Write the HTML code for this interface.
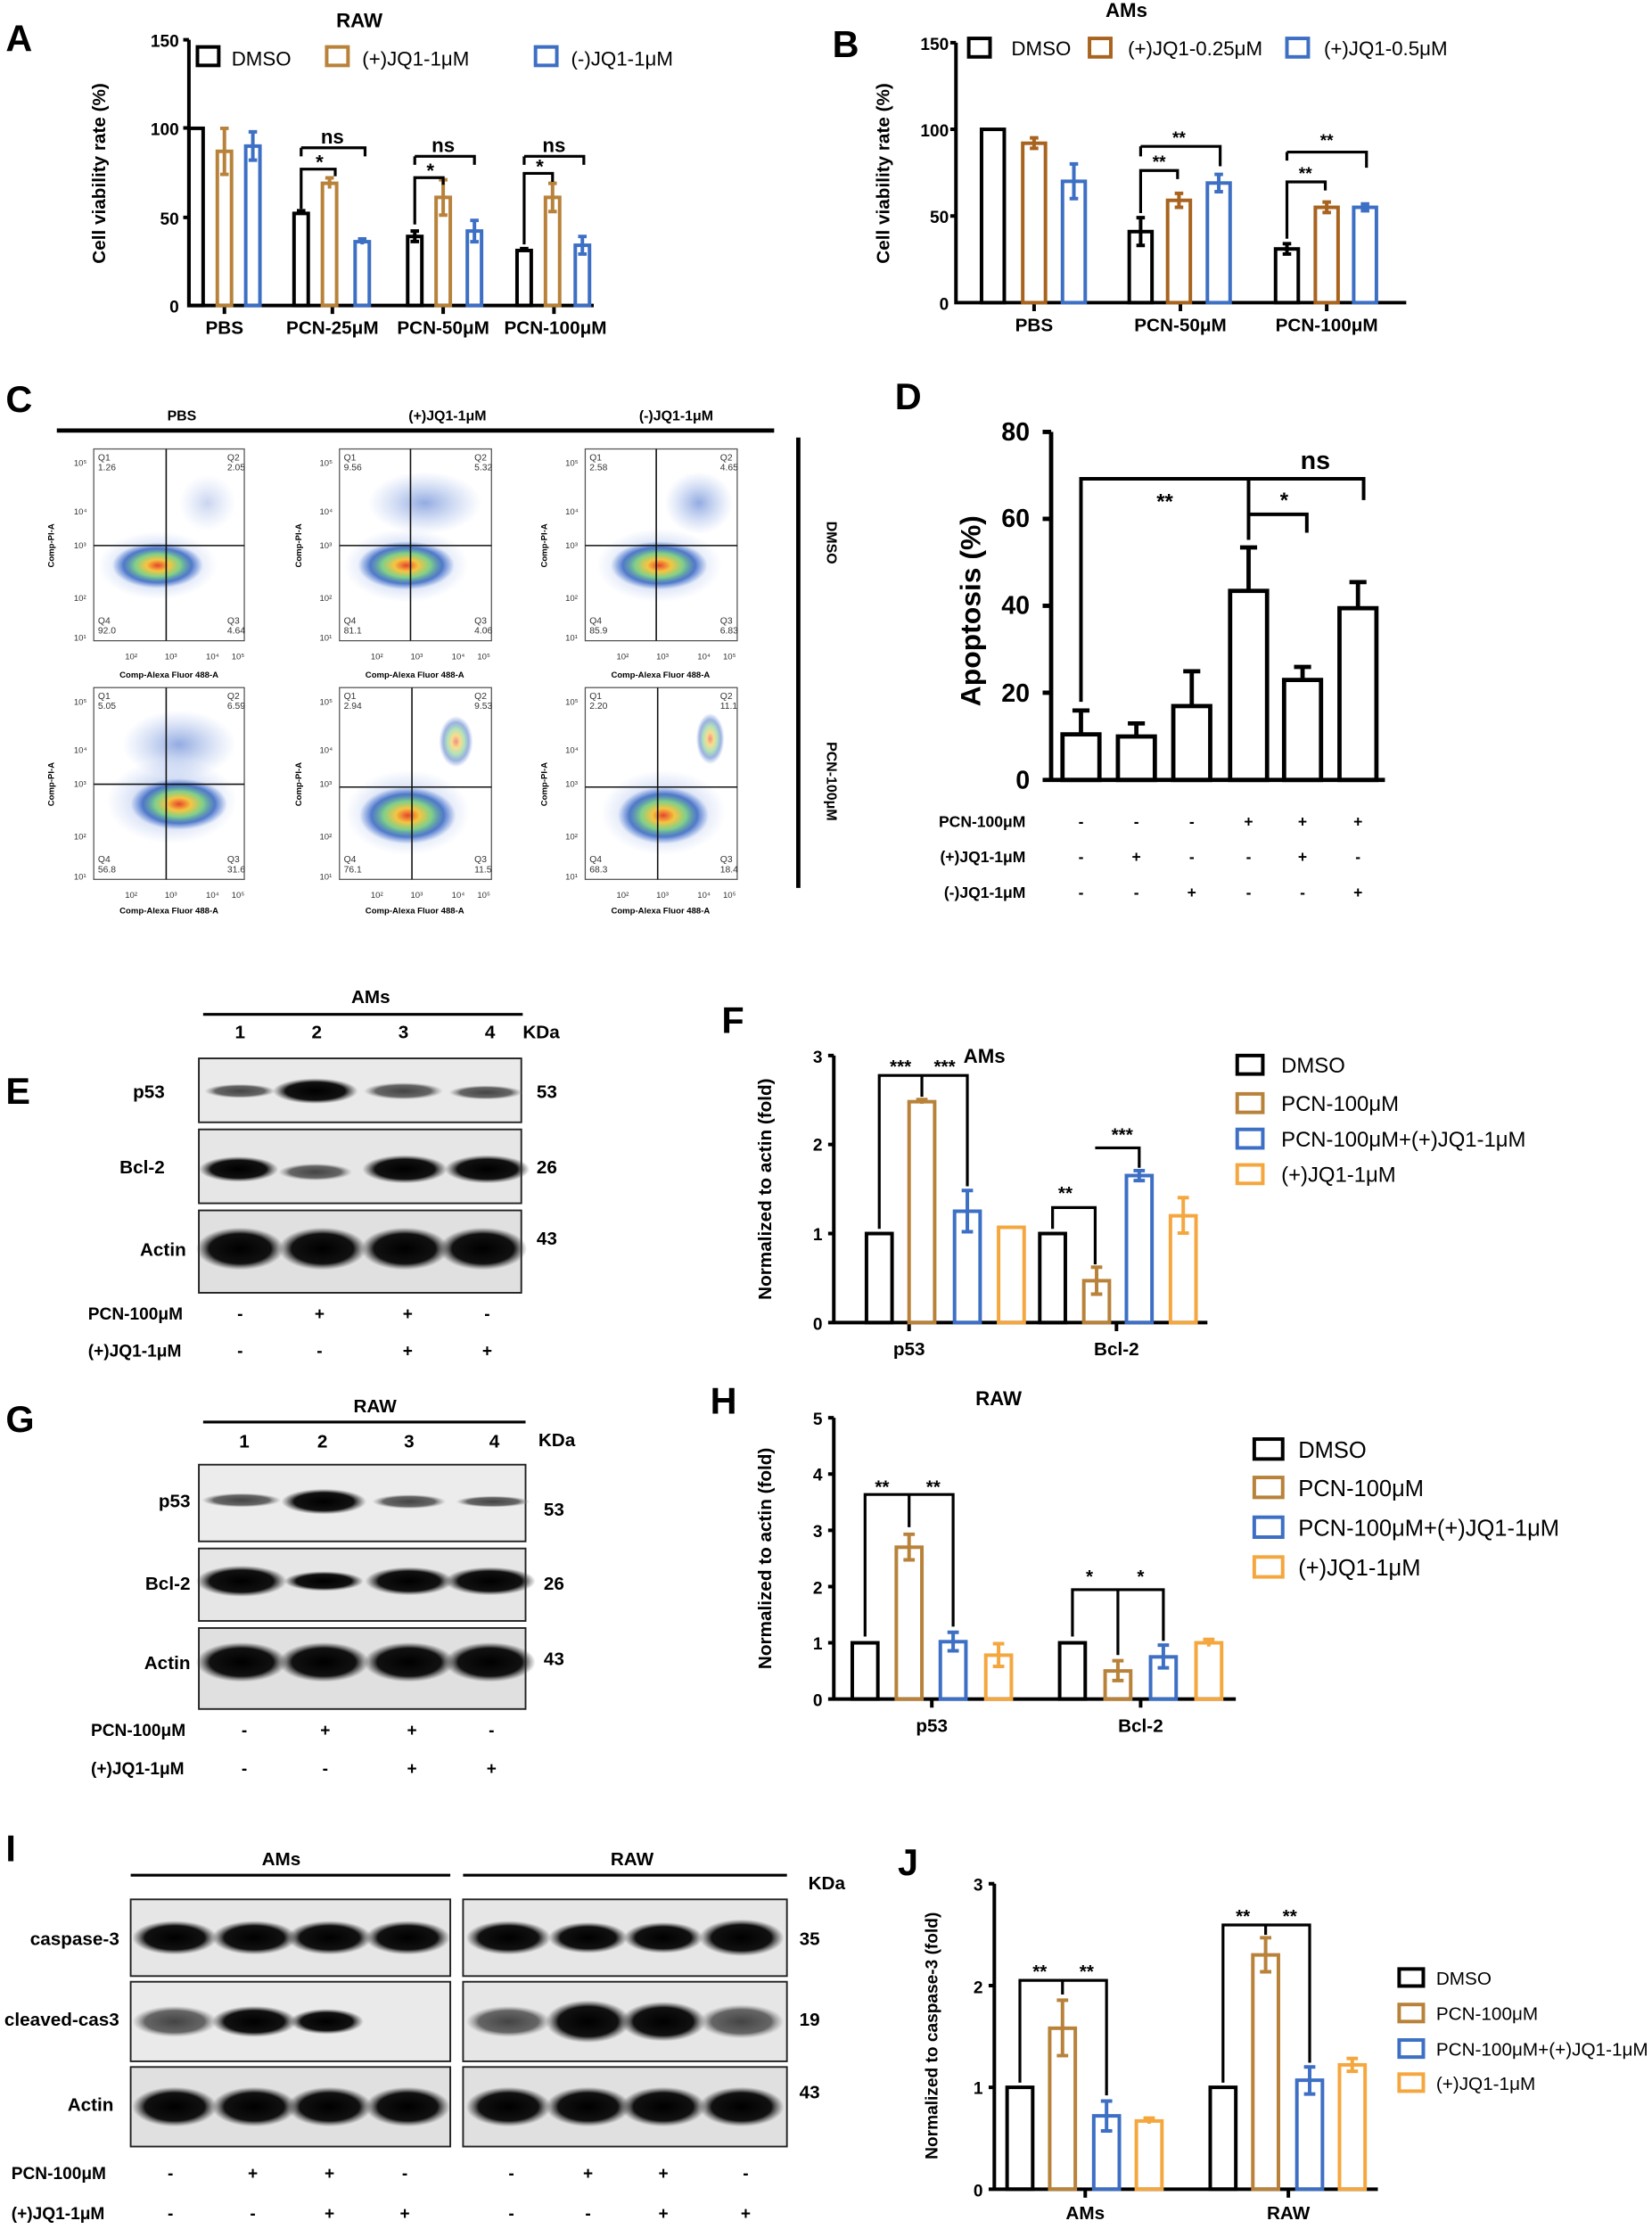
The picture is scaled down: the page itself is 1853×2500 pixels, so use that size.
<!DOCTYPE html>
<html><head><meta charset="utf-8"><style>
html,body{margin:0;padding:0;background:#fff}
svg{display:block}
text{font-family:"Liberation Sans",Arial,sans-serif}
.b{font-weight:bold}
</style></head><body>
<svg width="1853" height="2500" viewBox="0 0 1163 1569" xmlns="http://www.w3.org/2000/svg">
<defs>
<radialGradient id="fc"><stop offset="0" stop-color="#e8452a"/><stop offset="0.25" stop-color="#f5c542"/><stop offset="0.5" stop-color="#7fd08a"/><stop offset="0.75" stop-color="#2f5fc0" stop-opacity="0.8"/><stop offset="1" stop-color="#3d6fd0" stop-opacity="0"/></radialGradient>
<radialGradient id="fb"><stop offset="0" stop-color="#3a66c8" stop-opacity="0.55"/><stop offset="1" stop-color="#6a8fe0" stop-opacity="0"/></radialGradient>
<radialGradient id="band"><stop offset="0" stop-color="#000"/><stop offset="0.7" stop-color="#111"/><stop offset="1" stop-color="#444" stop-opacity="0"/></radialGradient>
<radialGradient id="bandl"><stop offset="0" stop-color="#444"/><stop offset="0.7" stop-color="#666"/><stop offset="1" stop-color="#999" stop-opacity="0"/></radialGradient>
</defs>
<g fill="none" stroke-width="2.5">
<!-- ===== Panel A ===== -->
<text x="4" y="36" font-size="26" class="b" fill="#000" stroke="none">A</text>
<text x="253" y="19" font-size="14" class="b" text-anchor="middle" stroke="none" fill="#000">RAW</text>
<g stroke="none" fill="#000" font-size="14">
<text x="163" y="46">DMSO</text><text x="255" y="46">(+)JQ1-1μM</text><text x="402" y="46">(-)JQ1-1μM</text>
</g>
<rect x="139" y="33" width="15" height="13" stroke="#000"/><rect x="230" y="33" width="15" height="13" stroke="#b8823a"/><rect x="377" y="33" width="15" height="13" stroke="#3d6fc4"/>
<g stroke="none" fill="#000" font-size="12" class="b" text-anchor="end">
<text x="126" y="33">150</text><text x="126" y="95">100</text><text x="126" y="158">50</text><text x="126" y="220">0</text></g>
<text transform="translate(74,122) rotate(-90)" font-size="13" class="b" text-anchor="middle" stroke="none" fill="#000">Cell viability rate (%)</text>
<path d="M133,28V215H418M129,28H133M129,90H133M129,153H133M158,215V221M234,215V221M312,215V221M390,215V221" stroke="#000"/>
<g stroke="none" fill="#000" font-size="13" class="b" text-anchor="middle"><text x="158" y="235">PBS</text><text x="234" y="235">PCN-25μM</text><text x="312" y="235">PCN-50μM</text><text x="391" y="235">PCN-100μM</text></g>
<g stroke="#000"><rect x="133" y="90.3" width="10" height="124.7"/><rect x="207" y="150.2" width="10" height="64.8"/><rect x="287" y="166.4" width="10" height="48.6"/><rect x="364" y="176.3" width="10" height="38.7"/>
<path d="M212,148.3V150M209,148.3H215M292,162.6V170M289,162.6H295M289,170H295M369,175V177M366,175H372"/></g>
<g stroke="#b8823a"><rect x="153" y="106.5" width="10" height="108.5"/><rect x="227" y="129" width="10" height="86"/><rect x="307" y="138.9" width="10" height="76.1"/><rect x="384" y="138.9" width="10" height="76.1"/>
<path d="M158,90.3V122.7M155,90.3H161M155,122.7H161M232,125.2V132.7M229,125.2H235M312,126.5V151.4M309,126.5H315M309,151.4H315M389,129V148.9M386,129H392M386,148.9H392"/></g>
<g stroke="#3d6fc4"><rect x="173" y="102.8" width="10" height="112.2"/><rect x="250" y="170.1" width="10" height="44.9"/><rect x="329" y="162.6" width="10" height="52.4"/><rect x="405" y="172.6" width="10" height="42.4"/>
<path d="M178,92.8V112.7M175,92.8H181M175,112.7H181M255,168.2V172M252,168.2H258M334,155.1V170.1M331,155.1H337M331,170.1H337M410,166.4V178.8M407,166.4H413M407,178.8H413"/></g>
<path d="M212,147V119H236V124M212,104H257V110M212,104V110M292,158V125H312V130M292,110H334V116M292,110V116M369,172V122H389V128M369,110H411V116M369,110V116" stroke="#000" stroke-width="2"/>
<g stroke="none" fill="#000" font-size="14" class="b" text-anchor="middle"><text x="225" y="119">*</text><text x="234" y="101">ns</text><text x="303" y="125">*</text><text x="312" y="107">ns</text><text x="380" y="122">*</text><text x="390" y="107">ns</text></g>

<!-- ===== Panel B ===== -->
<text x="586" y="40" font-size="26" class="b" fill="#000" stroke="none">B</text>
<text x="793" y="12" font-size="14" class="b" text-anchor="middle" stroke="none" fill="#000">AMs</text>
<g stroke="none" fill="#000" font-size="14"><text x="712" y="39">DMSO</text><text x="794" y="39">(+)JQ1-0.25μM</text><text x="932" y="39">(+)JQ1-0.5μM</text></g>
<rect x="682" y="27" width="15" height="13" stroke="#000"/><rect x="767" y="27" width="15" height="13" stroke="#a8631e"/><rect x="906" y="27" width="15" height="13" stroke="#3d6fc4"/>
<g stroke="none" fill="#000" font-size="12" class="b" text-anchor="end"><text x="668" y="35">150</text><text x="668" y="96">100</text><text x="668" y="157">50</text><text x="668" y="218">0</text></g>
<text transform="translate(626,122) rotate(-90)" font-size="13" class="b" text-anchor="middle" stroke="none" fill="#000">Cell viability rate (%)</text>
<path d="M673,30V213H990M669,30H673M669,91H673M669,152H673M728,213V219M831,213V219M934,213V219" stroke="#000"/>
<g stroke="none" fill="#000" font-size="13" class="b" text-anchor="middle"><text x="728" y="233">PBS</text><text x="831" y="233">PCN-50μM</text><text x="934" y="233">PCN-100μM</text></g>
<g stroke="#000"><rect x="691" y="91" width="16" height="122"/><rect x="795" y="163" width="16" height="50"/><rect x="898" y="175.2" width="16" height="37.8"/>
<path d="M803,153.2V172.7M800,153.2H806M800,172.7H806M906,171.5V178.8M903,171.5H909M903,178.8H909"/></g>
<g stroke="#a8631e"><rect x="720" y="100.8" width="16" height="112.2"/><rect x="822" y="141" width="16" height="72"/><rect x="926" y="145.9" width="16" height="67.1"/>
<path d="M728,97V104.4M725,97H731M725,104.4H731M830,136.1V145.9M827,136.1H833M827,145.9H833M934,142.2V149.6M931,142.2H937M931,149.6H937"/></g>
<g stroke="#3d6fc4"><rect x="748" y="127.6" width="16" height="85.4"/><rect x="850" y="128.8" width="16" height="84.2"/><rect x="953" y="145.9" width="16" height="67.1"/>
<path d="M756,115.4V139.8M753,115.4H759M753,139.8H759M858,122.7V134.9M855,122.7H861M855,134.9H861M961,143.5V148.3M958,143.5H964M958,148.3H964"/></g>
<path d="M803,150V120H829V126M803,103H859V117M803,103V110M906,168V128H933V134M906,107H962V118M906,107V113" stroke="#000" stroke-width="2"/>
<g stroke="none" fill="#000" font-size="12" class="b" text-anchor="middle"><text x="816" y="118">**</text><text x="830" y="101">**</text><text x="919" y="126">**</text><text x="934" y="103">**</text></g>

<!-- ===== Panel C ===== -->
<text x="4" y="290" font-size="26" class="b" fill="#000" stroke="none">C</text>
<path d="M40,303H545M562,308V625" stroke="#000" stroke-width="3"/>
<g stroke="none" fill="#000" font-size="10" class="b" text-anchor="middle"><text x="128" y="296">PBS</text><text x="315" y="296">(+)JQ1-1μM</text><text x="476" y="296">(-)JQ1-1μM</text>
<text transform="translate(582,382) rotate(90)">DMSO</text><text transform="translate(582,550) rotate(90)">PCN-100μM</text></g>
<!-- plots -->
<g stroke="none">
<g transform="translate(66,316)"><rect width="106" height="135" fill="#fff" stroke="#555" stroke-width="0.8"/><ellipse cx="45" cy="82" rx="42" ry="24" fill="url(#fb)"/><ellipse cx="45" cy="82" rx="32" ry="16" fill="url(#fc)"/><ellipse cx="80" cy="38" rx="20" ry="20" fill="url(#fb)" opacity="0.5"/></g>
<g transform="translate(239,316)"><rect width="107" height="135" fill="#fff" stroke="#555" stroke-width="0.8"/><ellipse cx="47" cy="82" rx="44" ry="26" fill="url(#fb)"/><ellipse cx="47" cy="82" rx="34" ry="17" fill="url(#fc)"/><ellipse cx="60" cy="38" rx="40" ry="22" fill="url(#fb)"/></g>
<g transform="translate(412,316)"><rect width="107" height="135" fill="#fff" stroke="#555" stroke-width="0.8"/><ellipse cx="52" cy="82" rx="44" ry="26" fill="url(#fb)"/><ellipse cx="52" cy="82" rx="34" ry="17" fill="url(#fc)"/><ellipse cx="80" cy="38" rx="24" ry="22" fill="url(#fb)"/></g>
<g transform="translate(66,484)"><rect width="106" height="135" fill="#fff" stroke="#555" stroke-width="0.8"/><ellipse cx="55" cy="80" rx="46" ry="30" fill="url(#fb)"/><ellipse cx="60" cy="82" rx="34" ry="18" fill="url(#fc)"/><ellipse cx="60" cy="40" rx="40" ry="24" fill="url(#fb)"/></g>
<g transform="translate(239,484)"><rect width="107" height="135" fill="#fff" stroke="#555" stroke-width="0.8"/><ellipse cx="48" cy="88" rx="44" ry="30" fill="url(#fb)"/><ellipse cx="48" cy="90" rx="34" ry="20" fill="url(#fc)"/><ellipse cx="82" cy="38" rx="12" ry="18" fill="url(#fc)" opacity="0.6"/></g>
<g transform="translate(412,484)"><rect width="107" height="135" fill="#fff" stroke="#555" stroke-width="0.8"/><ellipse cx="55" cy="88" rx="44" ry="30" fill="url(#fb)"/><ellipse cx="55" cy="90" rx="32" ry="20" fill="url(#fc)"/><ellipse cx="88" cy="36" rx="10" ry="18" fill="url(#fc)" opacity="0.6"/></g>
</g>
<path d="M66,384H172M117,316V451M239,384H346M289,316V451M412,384H519M462,316V451M66,552H172M117,484V619M239,554H346M290,484V619M412,554H519M463,484V619" stroke="#111" stroke-width="1"/>
<g stroke="none" fill="#333" font-size="6.5" font-family="Liberation Serif">
<text x="69" y="324">Q1</text><text x="69" y="331">1.26</text><text x="160" y="324">Q2</text><text x="160" y="331">2.05</text><text x="69" y="439">Q4</text><text x="69" y="446">92.0</text><text x="160" y="439">Q3</text><text x="160" y="446">4.64</text>
<text x="242" y="324">Q1</text><text x="242" y="331">9.56</text><text x="334" y="324">Q2</text><text x="334" y="331">5.32</text><text x="242" y="439">Q4</text><text x="242" y="446">81.1</text><text x="334" y="439">Q3</text><text x="334" y="446">4.06</text>
<text x="415" y="324">Q1</text><text x="415" y="331">2.58</text><text x="507" y="324">Q2</text><text x="507" y="331">4.65</text><text x="415" y="439">Q4</text><text x="415" y="446">85.9</text><text x="507" y="439">Q3</text><text x="507" y="446">6.83</text>
<text x="69" y="492">Q1</text><text x="69" y="499">5.05</text><text x="160" y="492">Q2</text><text x="160" y="499">6.59</text><text x="69" y="607">Q4</text><text x="69" y="614">56.8</text><text x="160" y="607">Q3</text><text x="160" y="614">31.6</text>
<text x="242" y="492">Q1</text><text x="242" y="499">2.94</text><text x="334" y="492">Q2</text><text x="334" y="499">9.53</text><text x="242" y="607">Q4</text><text x="242" y="614">76.1</text><text x="334" y="607">Q3</text><text x="334" y="614">11.5</text>
<text x="415" y="492">Q1</text><text x="415" y="499">2.20</text><text x="507" y="492">Q2</text><text x="507" y="499">11.1</text><text x="415" y="607">Q4</text><text x="415" y="614">68.3</text><text x="507" y="607">Q3</text><text x="507" y="614">18.4</text>
</g>
<g stroke="none" fill="#000" font-size="6" class="b" text-anchor="middle">
<text x="119" y="477">Comp-Alexa Fluor 488-A</text><text x="292" y="477">Comp-Alexa Fluor 488-A</text><text x="465" y="477">Comp-Alexa Fluor 488-A</text>
<text x="119" y="643">Comp-Alexa Fluor 488-A</text><text x="292" y="643">Comp-Alexa Fluor 488-A</text><text x="465" y="643">Comp-Alexa Fluor 488-A</text>
<text transform="translate(38,384) rotate(-90)">Comp-PI-A</text><text transform="translate(212,384) rotate(-90)">Comp-PI-A</text><text transform="translate(385,384) rotate(-90)">Comp-PI-A</text>
<text transform="translate(38,552) rotate(-90)">Comp-PI-A</text><text transform="translate(212,552) rotate(-90)">Comp-PI-A</text><text transform="translate(385,552) rotate(-90)">Comp-PI-A</text>
</g>
<g stroke="none" fill="#333" font-size="6" font-family="Liberation Serif">
<text x="88" y="464">10²</text><text x="116" y="464">10³</text><text x="145" y="464">10⁴</text><text x="163" y="464">10⁵</text>
<text x="261" y="464">10²</text><text x="289" y="464">10³</text><text x="318" y="464">10⁴</text><text x="336" y="464">10⁵</text>
<text x="434" y="464">10²</text><text x="462" y="464">10³</text><text x="491" y="464">10⁴</text><text x="509" y="464">10⁵</text>
<text x="88" y="632">10²</text><text x="116" y="632">10³</text><text x="145" y="632">10⁴</text><text x="163" y="632">10⁵</text>
<text x="261" y="632">10²</text><text x="289" y="632">10³</text><text x="318" y="632">10⁴</text><text x="336" y="632">10⁵</text>
<text x="434" y="632">10²</text><text x="462" y="632">10³</text><text x="491" y="632">10⁴</text><text x="509" y="632">10⁵</text>
<text x="52" y="328">10⁵</text><text x="52" y="362">10⁴</text><text x="52" y="386">10³</text><text x="52" y="423">10²</text><text x="52" y="451">10¹</text>
<text x="225" y="328">10⁵</text><text x="225" y="362">10⁴</text><text x="225" y="386">10³</text><text x="225" y="423">10²</text><text x="225" y="451">10¹</text>
<text x="398" y="328">10⁵</text><text x="398" y="362">10⁴</text><text x="398" y="386">10³</text><text x="398" y="423">10²</text><text x="398" y="451">10¹</text>
<text x="52" y="496">10⁵</text><text x="52" y="530">10⁴</text><text x="52" y="554">10³</text><text x="52" y="591">10²</text><text x="52" y="619">10¹</text>
<text x="225" y="496">10⁵</text><text x="225" y="530">10⁴</text><text x="225" y="554">10³</text><text x="225" y="591">10²</text><text x="225" y="619">10¹</text>
<text x="398" y="496">10⁵</text><text x="398" y="530">10⁴</text><text x="398" y="554">10³</text><text x="398" y="591">10²</text><text x="398" y="619">10¹</text>
</g>

<!-- ===== Panel D ===== -->
<text x="630" y="288" font-size="26" class="b" fill="#000" stroke="none">D</text>
<g stroke="none" fill="#000" font-size="18" class="b" text-anchor="end"><text x="725" y="310">80</text><text x="725" y="371">60</text><text x="725" y="432">40</text><text x="725" y="494">20</text><text x="725" y="555">0</text></g>
<text transform="translate(690,430) rotate(-90)" font-size="20" class="b" text-anchor="middle" stroke="none" fill="#000">Apoptosis (%)</text>
<path d="M740,304V549H975M734,304H740M734,365.2H740M734,426.4H740M734,487.6H740M734,549H740" stroke="#000" stroke-width="3"/>
<g stroke="#000" stroke-width="3">
<rect x="748" y="516.9" width="26" height="32.1"/><rect x="787" y="518.4" width="26" height="30.6"/><rect x="826" y="497" width="26" height="52"/><rect x="866" y="415.9" width="26" height="133.1"/><rect x="904" y="478.6" width="26" height="70.4"/><rect x="943" y="428.1" width="26" height="120.9"/>
<path d="M761,500.1V517M755,500.1H767M800,509.2V518M794,509.2H806M839,472.5V497M833,472.5H845M879,385.3V416M873,385.3H885M917,469.4V479M911,469.4H923M956,409.7V428M950,409.7H962"/>
<path d="M761,494V337H879V380M879,362H920V375M879,337H960V352" stroke-width="2.5"/>
</g>
<g stroke="none" fill="#000" class="b" text-anchor="middle"><text x="820" y="358" font-size="15">**</text><text x="904" y="357" font-size="15">*</text><text x="926" y="330" font-size="18">ns</text></g>
<g stroke="none" fill="#000" font-size="11" class="b">
<text x="722" y="582" text-anchor="end">PCN-100μM</text><text x="722" y="607" text-anchor="end">(+)JQ1-1μM</text><text x="722" y="632" text-anchor="end">(-)JQ1-1μM</text>
<g text-anchor="middle"><text x="761" y="582">-</text><text x="800" y="582">-</text><text x="839" y="582">-</text><text x="879" y="582">+</text><text x="917" y="582">+</text><text x="956" y="582">+</text>
<text x="761" y="607">-</text><text x="800" y="607">+</text><text x="839" y="607">-</text><text x="879" y="607">-</text><text x="917" y="607">+</text><text x="956" y="607">-</text>
<text x="761" y="632">-</text><text x="800" y="632">-</text><text x="839" y="632">+</text><text x="879" y="632">-</text><text x="917" y="632">-</text><text x="956" y="632">+</text></g></g>

<!-- ===== Panel E ===== -->
<text x="4" y="777" font-size="26" class="b" fill="#000" stroke="none">E</text>
<text x="261" y="706" font-size="13" class="b" text-anchor="middle" stroke="none" fill="#000">AMs</text>
<path d="M143,714H368" stroke="#000" stroke-width="2"/>
<g stroke="none" fill="#000" font-size="13" class="b" text-anchor="middle"><text x="169" y="731">1</text><text x="223" y="731">2</text><text x="284" y="731">3</text><text x="345" y="731">4</text><text x="381" y="731">KDa</text>
<text x="116" y="773" text-anchor="end">p53</text><text x="116" y="826" text-anchor="end">Bcl-2</text><text x="131" y="884" text-anchor="end">Actin</text>
<text x="385" y="773">53</text><text x="385" y="826">26</text><text x="385" y="876">43</text></g>
<g stroke="#222" stroke-width="1.2"><rect x="140" y="745" width="227" height="45" fill="#eaeaea"/><rect x="140" y="795" width="227" height="52" fill="#e6e6e6"/><rect x="140" y="852" width="227" height="58" fill="#e0e0e0"/></g>
<g stroke="none"><ellipse cx="169" cy="768" rx="25" ry="5" fill="url(#bandl)"/><ellipse cx="222" cy="768" rx="30" ry="9" fill="url(#band)"/><ellipse cx="284" cy="768" rx="28" ry="6" fill="url(#bandl)"/><ellipse cx="342" cy="769" rx="26" ry="5" fill="url(#bandl)"/>
<ellipse cx="168" cy="823" rx="28" ry="9" fill="url(#band)"/><ellipse cx="222" cy="825" rx="26" ry="6" fill="url(#bandl)"/><ellipse cx="285" cy="823" rx="30" ry="10" fill="url(#band)"/><ellipse cx="343" cy="823" rx="30" ry="10" fill="url(#band)"/>
<ellipse cx="169" cy="879" rx="31" ry="15" fill="url(#band)"/><ellipse cx="227" cy="879" rx="31" ry="15" fill="url(#band)"/><ellipse cx="285" cy="879" rx="31" ry="15" fill="url(#band)"/><ellipse cx="340" cy="879" rx="31" ry="15" fill="url(#band)"/></g>
<g stroke="none" fill="#000" font-size="12" class="b"><text x="62" y="929">PCN-100μM</text><text x="62" y="955">(+)JQ1-1μM</text>
<g text-anchor="middle"><text x="169" y="929">-</text><text x="225" y="929">+</text><text x="287" y="929">+</text><text x="343" y="929">-</text><text x="169" y="955">-</text><text x="225" y="955">-</text><text x="287" y="955">+</text><text x="343" y="955">+</text></g></g>

<!-- ===== Panel F ===== -->
<text x="508" y="727" font-size="26" class="b" fill="#000" stroke="none">F</text>
<text x="693" y="748" font-size="14" class="b" text-anchor="middle" stroke="none" fill="#000">AMs</text>
<g stroke="none" fill="#000" font-size="12" class="b" text-anchor="end"><text x="579" y="748">3</text><text x="579" y="810">2</text><text x="579" y="873">1</text><text x="579" y="936">0</text></g>
<text transform="translate(543,837) rotate(-90)" font-size="13" class="b" text-anchor="middle" stroke="none" fill="#000">Normalized to actin (fold)</text>
<path d="M587,743V931H850M583,743H587M583,805.6H587M583,868.3H587M583,931H587M640,931V937M786,931V937" stroke="#000"/>
<g stroke="none" fill="#000" font-size="13" class="b" text-anchor="middle"><text x="640" y="954">p53</text><text x="786" y="954">Bcl-2</text></g>
<g stroke="#000"><rect x="610" y="868.3" width="18" height="62.7"/><rect x="732" y="868.3" width="18" height="62.7"/></g>
<g stroke="#b8823a"><rect x="640" y="775.5" width="18" height="155.5"/><rect x="763" y="901.5" width="18" height="29.5"/><path d="M649,774V777M645,774H653M772,892V911M768,892H776M768,911H776"/></g>
<g stroke="#3d6fc4"><rect x="672" y="852.6" width="18" height="78.4"/><rect x="793" y="827.5" width="18" height="103.5"/><path d="M681,838V867M677,838H685M677,867H685M802,824V831M798,824H806M798,831H806"/></g>
<g stroke="#f5a73f"><rect x="703" y="863.9" width="18" height="67.1"/><rect x="824" y="855.8" width="18" height="75.2"/><path d="M833,843V868M829,843H837M829,868H837"/></g>
<path d="M619,865V757H649V772M649,757H681V835M741,865V850H771V890M771,808H802V822" stroke="#000" stroke-width="2"/>
<g stroke="none" fill="#000" font-size="13" class="b" text-anchor="middle"><text x="634" y="755">***</text><text x="665" y="755">***</text><text x="750" y="844">**</text><text x="790" y="803">***</text></g>
<g stroke="none" fill="#000" font-size="15"><text x="902" y="755">DMSO</text><text x="902" y="782">PCN-100μM</text><text x="902" y="807">PCN-100μM+(+)JQ1-1μM</text><text x="902" y="832">(+)JQ1-1μM</text></g>
<rect x="871" y="743" width="18" height="13" stroke="#000"/><rect x="871" y="770" width="18" height="13" stroke="#b8823a"/><rect x="871" y="795" width="18" height="13" stroke="#3d6fc4"/><rect x="871" y="820" width="18" height="13" stroke="#f5a73f"/>

<!-- ===== Panel G ===== -->
<text x="4" y="1008" font-size="26" class="b" fill="#000" stroke="none">G</text>
<text x="264" y="994" font-size="13" class="b" text-anchor="middle" stroke="none" fill="#000">RAW</text>
<path d="M143,1001H370" stroke="#000" stroke-width="2"/>
<g stroke="none" fill="#000" font-size="13" class="b" text-anchor="middle"><text x="172" y="1019">1</text><text x="227" y="1019">2</text><text x="288" y="1019">3</text><text x="348" y="1019">4</text><text x="392" y="1018">KDa</text>
<text x="134" y="1061" text-anchor="end">p53</text><text x="134" y="1119" text-anchor="end">Bcl-2</text><text x="134" y="1175" text-anchor="end">Actin</text>
<text x="390" y="1067">53</text><text x="390" y="1119">26</text><text x="390" y="1172">43</text></g>
<g stroke="#222" stroke-width="1.2"><rect x="140" y="1031" width="230" height="54" fill="#ececec"/><rect x="140" y="1090" width="230" height="51" fill="#e6e6e6"/><rect x="140" y="1146" width="230" height="57" fill="#e0e0e0"/></g>
<g stroke="none"><ellipse cx="170" cy="1056" rx="28" ry="5" fill="url(#bandl)"/><ellipse cx="228" cy="1057" rx="30" ry="9" fill="url(#band)"/><ellipse cx="288" cy="1057" rx="26" ry="5" fill="url(#bandl)"/><ellipse cx="347" cy="1057" rx="26" ry="4" fill="url(#bandl)"/>
<ellipse cx="170" cy="1113" rx="32" ry="11" fill="url(#band)"/><ellipse cx="228" cy="1113" rx="28" ry="7" fill="url(#band)"/><ellipse cx="288" cy="1113" rx="31" ry="10" fill="url(#band)"/><ellipse cx="345" cy="1113" rx="32" ry="10" fill="url(#band)"/>
<ellipse cx="170" cy="1170" rx="32" ry="14" fill="url(#band)"/><ellipse cx="228" cy="1170" rx="32" ry="14" fill="url(#band)"/><ellipse cx="288" cy="1170" rx="32" ry="14" fill="url(#band)"/><ellipse cx="345" cy="1170" rx="32" ry="14" fill="url(#band)"/></g>
<g stroke="none" fill="#000" font-size="12" class="b"><text x="64" y="1222">PCN-100μM</text><text x="64" y="1249">(+)JQ1-1μM</text>
<g text-anchor="middle"><text x="172" y="1222">-</text><text x="229" y="1222">+</text><text x="290" y="1222">+</text><text x="346" y="1222">-</text><text x="172" y="1249">-</text><text x="229" y="1249">-</text><text x="290" y="1249">+</text><text x="346" y="1249">+</text></g></g>

<!-- ===== Panel H ===== -->
<text x="500" y="995" font-size="26" class="b" fill="#000" stroke="none">H</text>
<text x="703" y="989" font-size="14" class="b" text-anchor="middle" stroke="none" fill="#000">RAW</text>
<g stroke="none" fill="#000" font-size="12" class="b" text-anchor="end"><text x="579" y="1003">5</text><text x="579" y="1042">4</text><text x="579" y="1082">3</text><text x="579" y="1122">2</text><text x="579" y="1161">1</text><text x="579" y="1201">0</text></g>
<text transform="translate(543,1097) rotate(-90)" font-size="13" class="b" text-anchor="middle" stroke="none" fill="#000">Normalized to actin (fold)</text>
<path d="M587,998V1196H870M583,998H587M583,1037.6H587M583,1077.2H587M583,1116.8H587M583,1156.4H587M583,1196H587M656,1196V1202M803,1196V1202" stroke="#000"/>
<g stroke="none" fill="#000" font-size="13" class="b" text-anchor="middle"><text x="656" y="1219">p53</text><text x="803" y="1219">Bcl-2</text></g>
<g stroke="#000"><rect x="600" y="1156.4" width="18" height="39.6"/><rect x="746" y="1156.4" width="18" height="39.6"/></g>
<g stroke="#b8823a"><rect x="631" y="1089.1" width="18" height="106.9"/><rect x="778" y="1176.2" width="18" height="19.8"/><path d="M640,1080V1098M636,1080H644M636,1098H644M787,1169V1183M783,1169H791M783,1183H791"/></g>
<g stroke="#3d6fc4"><rect x="662" y="1155.6" width="18" height="40.4"/><rect x="810" y="1166.3" width="18" height="29.7"/><path d="M671,1149V1162M667,1149H675M667,1162H675M819,1158V1174M815,1158H823M815,1174H823"/></g>
<g stroke="#f5a73f"><rect x="694" y="1165.1" width="18" height="30.9"/><rect x="842" y="1156.4" width="18" height="39.6"/><path d="M703,1157V1173M699,1157H707M699,1173H707M851,1154V1159M847,1154H855"/></g>
<path d="M609,1152V1052H640V1075M640,1052H671V1145M755,1152V1119H787V1165M787,1119H819V1155" stroke="#000" stroke-width="2"/>
<g stroke="none" fill="#000" font-size="13" class="b" text-anchor="middle"><text x="621" y="1051">**</text><text x="657" y="1051">**</text><text x="767" y="1114">*</text><text x="803" y="1114">*</text></g>
<g stroke="none" fill="#000" font-size="16"><text x="914" y="1026">DMSO</text><text x="914" y="1053">PCN-100μM</text><text x="914" y="1081">PCN-100μM+(+)JQ1-1μM</text><text x="914" y="1109">(+)JQ1-1μM</text></g>
<rect x="883" y="1013" width="20" height="14" stroke="#000"/><rect x="883" y="1040" width="20" height="14" stroke="#b8823a"/><rect x="883" y="1068" width="20" height="14" stroke="#3d6fc4"/><rect x="883" y="1096" width="20" height="14" stroke="#f5a73f"/>

<!-- ===== Panel I ===== -->
<text x="4" y="1310" font-size="26" class="b" fill="#000" stroke="none">I</text>
<path d="M92,1320H317M326,1320H554" stroke="#000" stroke-width="2"/>
<g stroke="none" fill="#000" font-size="13" class="b" text-anchor="middle"><text x="198" y="1313">AMs</text><text x="445" y="1313">RAW</text><text x="582" y="1330">KDa</text>
<text x="84" y="1369" text-anchor="end">caspase-3</text><text x="84" y="1426" text-anchor="end">cleaved-cas3</text><text x="80" y="1486" text-anchor="end">Actin</text>
<text x="570" y="1369">35</text><text x="570" y="1426">19</text><text x="570" y="1477">43</text></g>
<g stroke="#222" stroke-width="1.2"><rect x="92" y="1337" width="225" height="54" fill="#e6e6e6"/><rect x="92" y="1395" width="225" height="56" fill="#eaeaea"/><rect x="92" y="1455" width="225" height="56" fill="#e0e0e0"/>
<rect x="326" y="1337" width="228" height="54" fill="#e6e6e6"/><rect x="326" y="1395" width="228" height="56" fill="#e6e6e6"/><rect x="326" y="1455" width="228" height="56" fill="#e0e0e0"/></g>
<g stroke="none">
<ellipse cx="123" cy="1364" rx="30" ry="12" fill="url(#band)"/><ellipse cx="179" cy="1364" rx="30" ry="12" fill="url(#band)"/><ellipse cx="232" cy="1364" rx="30" ry="12" fill="url(#band)"/><ellipse cx="287" cy="1364" rx="30" ry="12" fill="url(#band)"/>
<ellipse cx="123" cy="1423" rx="30" ry="11" fill="url(#bandl)"/><ellipse cx="179" cy="1423" rx="30" ry="11" fill="url(#band)"/><ellipse cx="230" cy="1423" rx="26" ry="9" fill="url(#band)"/>
<ellipse cx="123" cy="1483" rx="30" ry="14" fill="url(#band)"/><ellipse cx="179" cy="1483" rx="30" ry="14" fill="url(#band)"/><ellipse cx="232" cy="1483" rx="30" ry="14" fill="url(#band)"/><ellipse cx="287" cy="1483" rx="30" ry="14" fill="url(#band)"/>
<ellipse cx="358" cy="1364" rx="30" ry="12" fill="url(#band)"/><ellipse cx="414" cy="1364" rx="28" ry="11" fill="url(#band)"/><ellipse cx="467" cy="1364" rx="28" ry="11" fill="url(#band)"/><ellipse cx="522" cy="1364" rx="30" ry="13" fill="url(#band)"/>
<ellipse cx="358" cy="1423" rx="30" ry="11" fill="url(#bandl)"/><ellipse cx="414" cy="1423" rx="30" ry="15" fill="url(#band)"/><ellipse cx="467" cy="1423" rx="30" ry="14" fill="url(#band)"/><ellipse cx="522" cy="1423" rx="30" ry="12" fill="url(#bandl)"/>
<ellipse cx="358" cy="1483" rx="30" ry="14" fill="url(#band)"/><ellipse cx="414" cy="1483" rx="30" ry="14" fill="url(#band)"/><ellipse cx="467" cy="1483" rx="30" ry="14" fill="url(#band)"/><ellipse cx="522" cy="1483" rx="30" ry="14" fill="url(#band)"/></g>
<g stroke="none" fill="#000" font-size="12" class="b"><text x="8" y="1534">PCN-100μM</text><text x="8" y="1562">(+)JQ1-1μM</text>
<g text-anchor="middle"><text x="120" y="1534">-</text><text x="178" y="1534">+</text><text x="232" y="1534">+</text><text x="285" y="1534">-</text><text x="360" y="1534">-</text><text x="414" y="1534">+</text><text x="467" y="1534">+</text><text x="525" y="1534">-</text>
<text x="120" y="1562">-</text><text x="178" y="1562">-</text><text x="232" y="1562">+</text><text x="285" y="1562">+</text><text x="360" y="1562">-</text><text x="414" y="1562">-</text><text x="467" y="1562">+</text><text x="525" y="1562">+</text></g></g>

<!-- ===== Panel J ===== -->
<text x="632" y="1320" font-size="26" class="b" fill="#000" stroke="none">J</text>
<g stroke="none" fill="#000" font-size="12" class="b" text-anchor="end"><text x="692" y="1331">3</text><text x="692" y="1403">2</text><text x="692" y="1474">1</text><text x="692" y="1546">0</text></g>
<text transform="translate(660,1433) rotate(-90)" font-size="12" class="b" text-anchor="middle" stroke="none" fill="#000">Normalized to caspase-3 (fold)</text>
<path d="M700,1326V1541H970M696,1326H700M696,1397.7H700M696,1469.3H700M696,1541H700M764,1541V1547M907,1541V1547" stroke="#000"/>
<g stroke="none" fill="#000" font-size="13" class="b" text-anchor="middle"><text x="764" y="1562">AMs</text><text x="907" y="1562">RAW</text></g>
<g stroke="#000"><rect x="709" y="1469.3" width="18" height="71.7"/><rect x="852" y="1469.3" width="18" height="71.7"/></g>
<g stroke="#b8823a"><rect x="739" y="1427.7" width="18" height="113.3"/><rect x="882" y="1376.1" width="18" height="164.9"/><path d="M748,1408V1447M744,1408H752M744,1447H752M891,1364V1388M887,1364H895M887,1388H895"/></g>
<g stroke="#3d6fc4"><rect x="770" y="1489.4" width="18" height="51.6"/><rect x="913" y="1464.3" width="18" height="76.7"/><path d="M779,1479V1500M775,1479H783M775,1500H783M922,1455V1474M918,1455H926M918,1474H926"/></g>
<g stroke="#f5a73f"><rect x="800" y="1493" width="18" height="48"/><rect x="943" y="1453.5" width="18" height="87.5"/><path d="M809,1491V1495M805,1491H813M952,1449V1458M948,1449H956M948,1458H956"/></g>
<path d="M718,1466V1394H748V1404M748,1394H779V1475M861,1466V1355H891V1362M891,1355H922V1452" stroke="#000" stroke-width="2"/>
<g stroke="none" fill="#000" font-size="13" class="b" text-anchor="middle"><text x="732" y="1392">**</text><text x="765" y="1392">**</text><text x="875" y="1353">**</text><text x="908" y="1353">**</text></g>
<g stroke="none" fill="#000" font-size="13"><text x="1011" y="1397">DMSO</text><text x="1011" y="1422">PCN-100μM</text><text x="1011" y="1447">PCN-100μM+(+)JQ1-1μM</text><text x="1011" y="1471">(+)JQ1-1μM</text></g>
<rect x="985" y="1386" width="17" height="12" stroke="#000"/><rect x="985" y="1411" width="17" height="12" stroke="#b8823a"/><rect x="985" y="1436" width="17" height="12" stroke="#3d6fc4"/><rect x="985" y="1460" width="17" height="12" stroke="#f5a73f"/>
</g>
</svg>
</body></html>
